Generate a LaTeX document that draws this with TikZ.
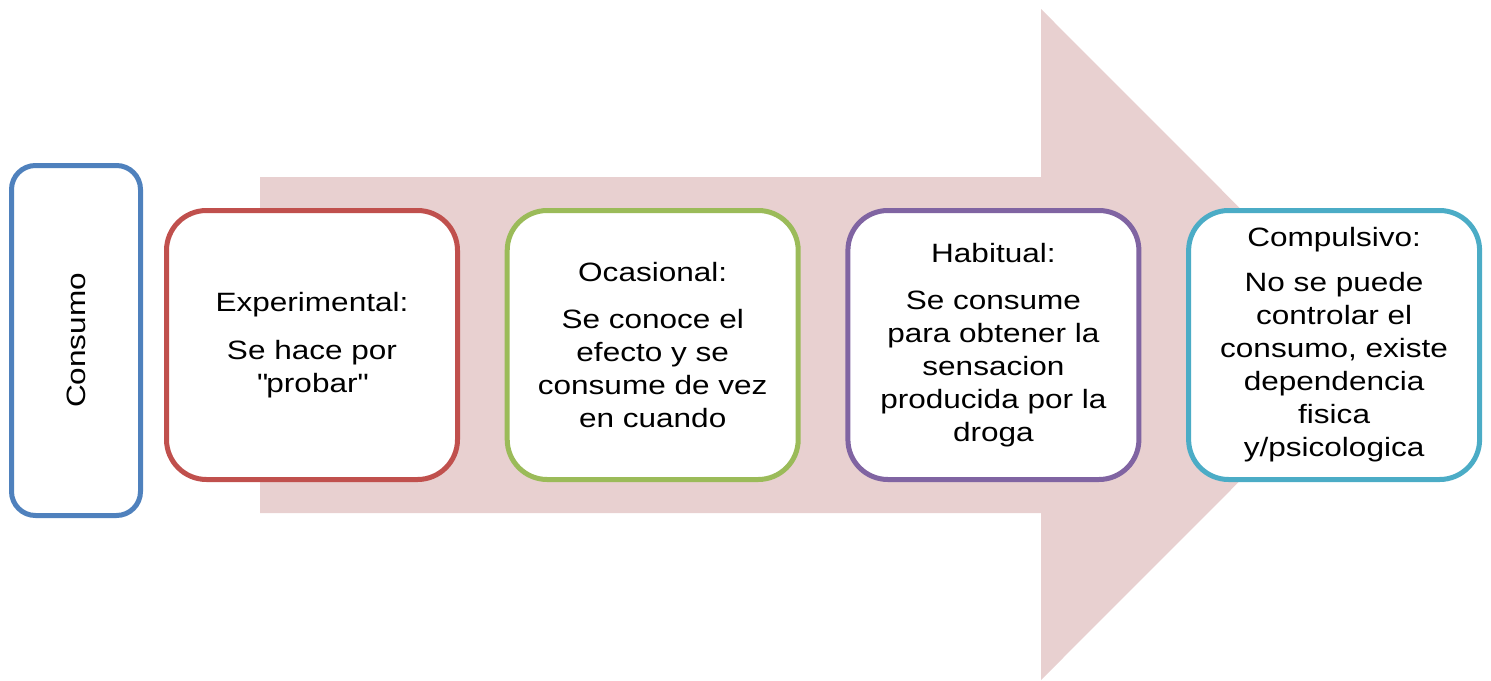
\documentclass[tikz,border=0pt]{standalone}
\usepackage{fontspec}
\setmainfont{Liberation Sans}[FakeStretch=1.19]
\usepackage{tikz}
\definecolor{consumoblue}{HTML}{4F81BD}
\definecolor{stagered}{HTML}{C0504D}
\definecolor{stagegreen}{HTML}{9BBB59}
\definecolor{stagepurple}{HTML}{8064A2}
\definecolor{stagecyan}{HTML}{4BACC6}
\definecolor{arrowpink}{HTML}{E8D0D0}
\newcommand{\dq}{\XeTeXglyph\XeTeXcharglyph34\relax}
\tikzset{
    mynode/.style = {rectangle, rounded corners=20pt, line width=2.5pt, draw=black, align=center, fill=white, minimum width=145.5pt, minimum height=134.5pt, inner sep=0pt, font=\fontsize{13.25}{16.5}\selectfont, text=black},
    mynoder/.style = {mynode, draw=stagered},
    mynodeg/.style = {mynode, draw=stagegreen},
    mynodep/.style = {mynode, draw=stagepurple},
    mynodec/.style = {mynode, draw=stagecyan},
    mynodeb/.style = {mynode, draw=consumoblue, rounded corners=12pt, minimum width=175pt, minimum height=64.5pt, rotate=90}, % rotated label
    arrowbg/.style = {fill=arrowpink, draw=none}
}
\begin{document}
\begin{tikzpicture}[x=0.5pt,y=-0.5pt]
\useasboundingbox (0,0) rectangle (1491,680);

\fill[arrowbg] (260,177) -- (1041,177) -- (1041,9) -- (1376,344.5) -- (1041,680) -- (1041,513) -- (260,513) -- cycle;

\node[mynodeb] at (  76.0, 340.5) (consumo) {Consumo};
\node[mynoder] at ( 312.0, 345.0) (experimental) {Experimental:\\[7.5pt] Se hace por\\ \dq probar\dq};
\node[mynodeg] at ( 652.7, 345.0) (ocasional) {Ocasional:\\[7pt] Se conoce el\\ efecto y se\\ consume de vez\\ en cuando};
\node[mynodep] at ( 993.4, 345.0) (habitual) {Habitual:\\[7pt] Se consume\\ para obtener la\\ sensacion\\ producida por la\\ droga};
\node[mynodec] at (1334.1, 345.0) (compulsivo) {Compulsivo:\\[6pt] No se puede\\ controlar el\\ consumo, existe\\ dependencia\\ fisica\\ y/psicologica};

\end{tikzpicture}
\end{document}
